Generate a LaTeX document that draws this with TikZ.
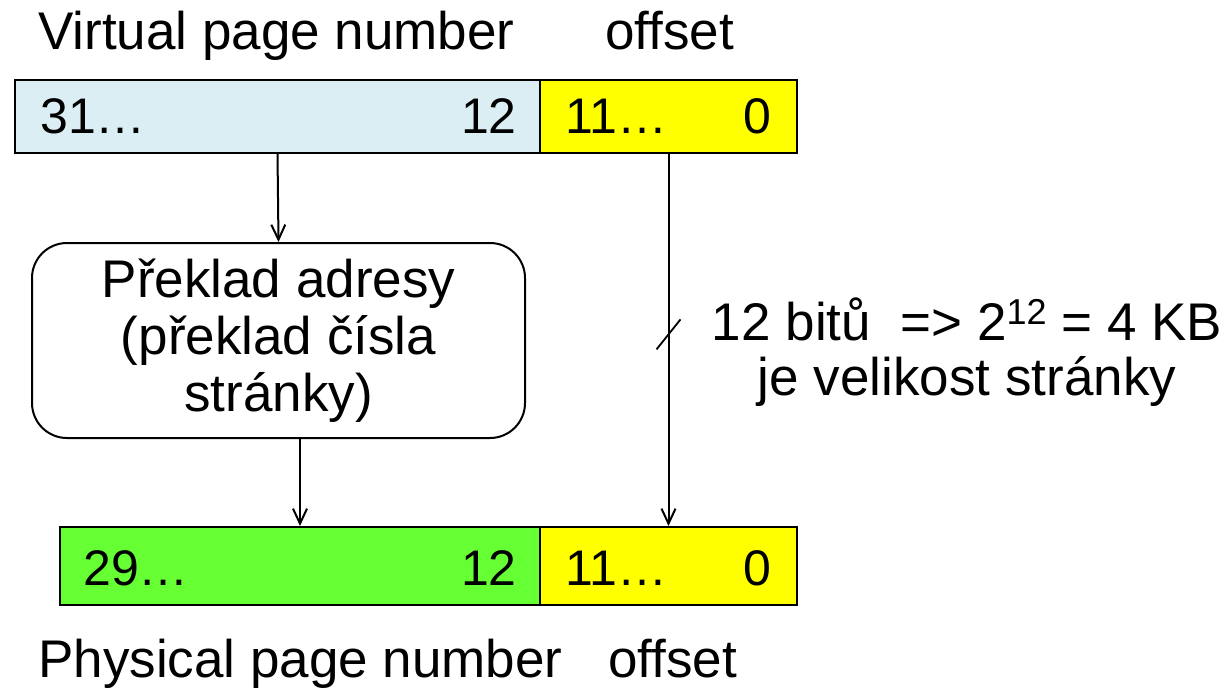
\documentclass[tikz,border=0pt]{standalone}
\usepackage{fontspec}
\setmainfont{Liberation Sans}
\usetikzlibrary{arrows.meta,calc}
\definecolor{vpnblue}{RGB}{218,238,243}
\definecolor{ofsyellow}{RGB}{255,255,0}
\definecolor{ppngreen}{RGB}{102,255,51}
\tikzset{
  field/.style={draw, line width=2pt, inner sep=0pt, minimum height=73pt},
  label/.style={inner sep=0pt, font=\fontsize{53}{57}\selectfont},
  digits/.style={inner sep=0pt, font=\fontsize{50}{57}\selectfont},
  conn/.style={line width=2pt, -{Straight Barb[length=15pt,width=14pt,line width=2pt]}},
}
\newcommand{\supnum}[1]{\raisebox{16pt}{\fontsize{36}{36}\selectfont #1}}
\begin{document}
\begin{tikzpicture}[x=1pt,y=-1pt]
\useasboundingbox (0,0) rectangle (1232,690);

% virtual address
\node[field, fill=vpnblue, minimum width=525pt] (vpn) at (277.5,116.5) {};
\node[field, fill=ofsyellow, minimum width=257pt] (vofs) at (668.5,116.5) {};
\node[digits, anchor=base west] (v31) at (40,134) {31…};
\node[digits, anchor=base east] (v12) at (517,134) {12};
\node[digits, anchor=base west] (v11) at (565,134) {11…};
\node[digits, anchor=base east] (v0) at (771,134) {0};
\node[label, anchor=base west] (vpnlbl) at (38,50) {Virtual page number};
\node[label, anchor=base west] (vofslbl) at (605,50) {offset};

% translation block
\node[draw, line width=2pt, rounded corners=35pt, minimum width=493pt,
      minimum height=195pt, align=center, inner sep=0pt,
      font=\fontsize{53}{57}\selectfont] (trans) at (278.5,340.5)
  {Překlad adresy\\(překlad čísla\\stránky)};

% physical address
\node[field, fill=ppngreen, minimum width=480pt, minimum height=78pt] (ppn) at (300,566) {};
\node[field, fill=ofsyellow, minimum width=257pt, minimum height=78pt] (pofs) at (668.5,566) {};
\node[digits, anchor=base west] (p29) at (83,585) {29…};
\node[digits, anchor=base east] (p12) at (517,585) {12};
\node[digits, anchor=base west] (p11) at (565,585) {11…};
\node[digits, anchor=base east] (p0) at (771,585) {0};
\node[label, anchor=base west] (ppnlbl) at (38,677) {Physical page number};
\node[label, anchor=base west] (pofslbl) at (608,677) {offset};

% connectors
\draw[conn] (vpn.south) -- (trans.north);
\draw[conn] (trans.south -| ppn.north) -- (ppn.north);
\draw[conn] (vofs.south) -- (pofs.north);

% bit-width mark on the offset line
\coordinate (tick) at ($(vofs.south)!0.485!(pofs.north)$);
\draw[line width=1.8pt] ([shift={(-12pt,-15pt)}]tick) -- ([shift={(12pt,15pt)}]tick);

\node[label, anchor=base] (bits) at (967,340) {12 bitů\ \ => 2\supnum{12} = 4 KB};
\node[label, anchor=base] (size) at (967,395) {je velikost stránky};
\end{tikzpicture}
\end{document}
